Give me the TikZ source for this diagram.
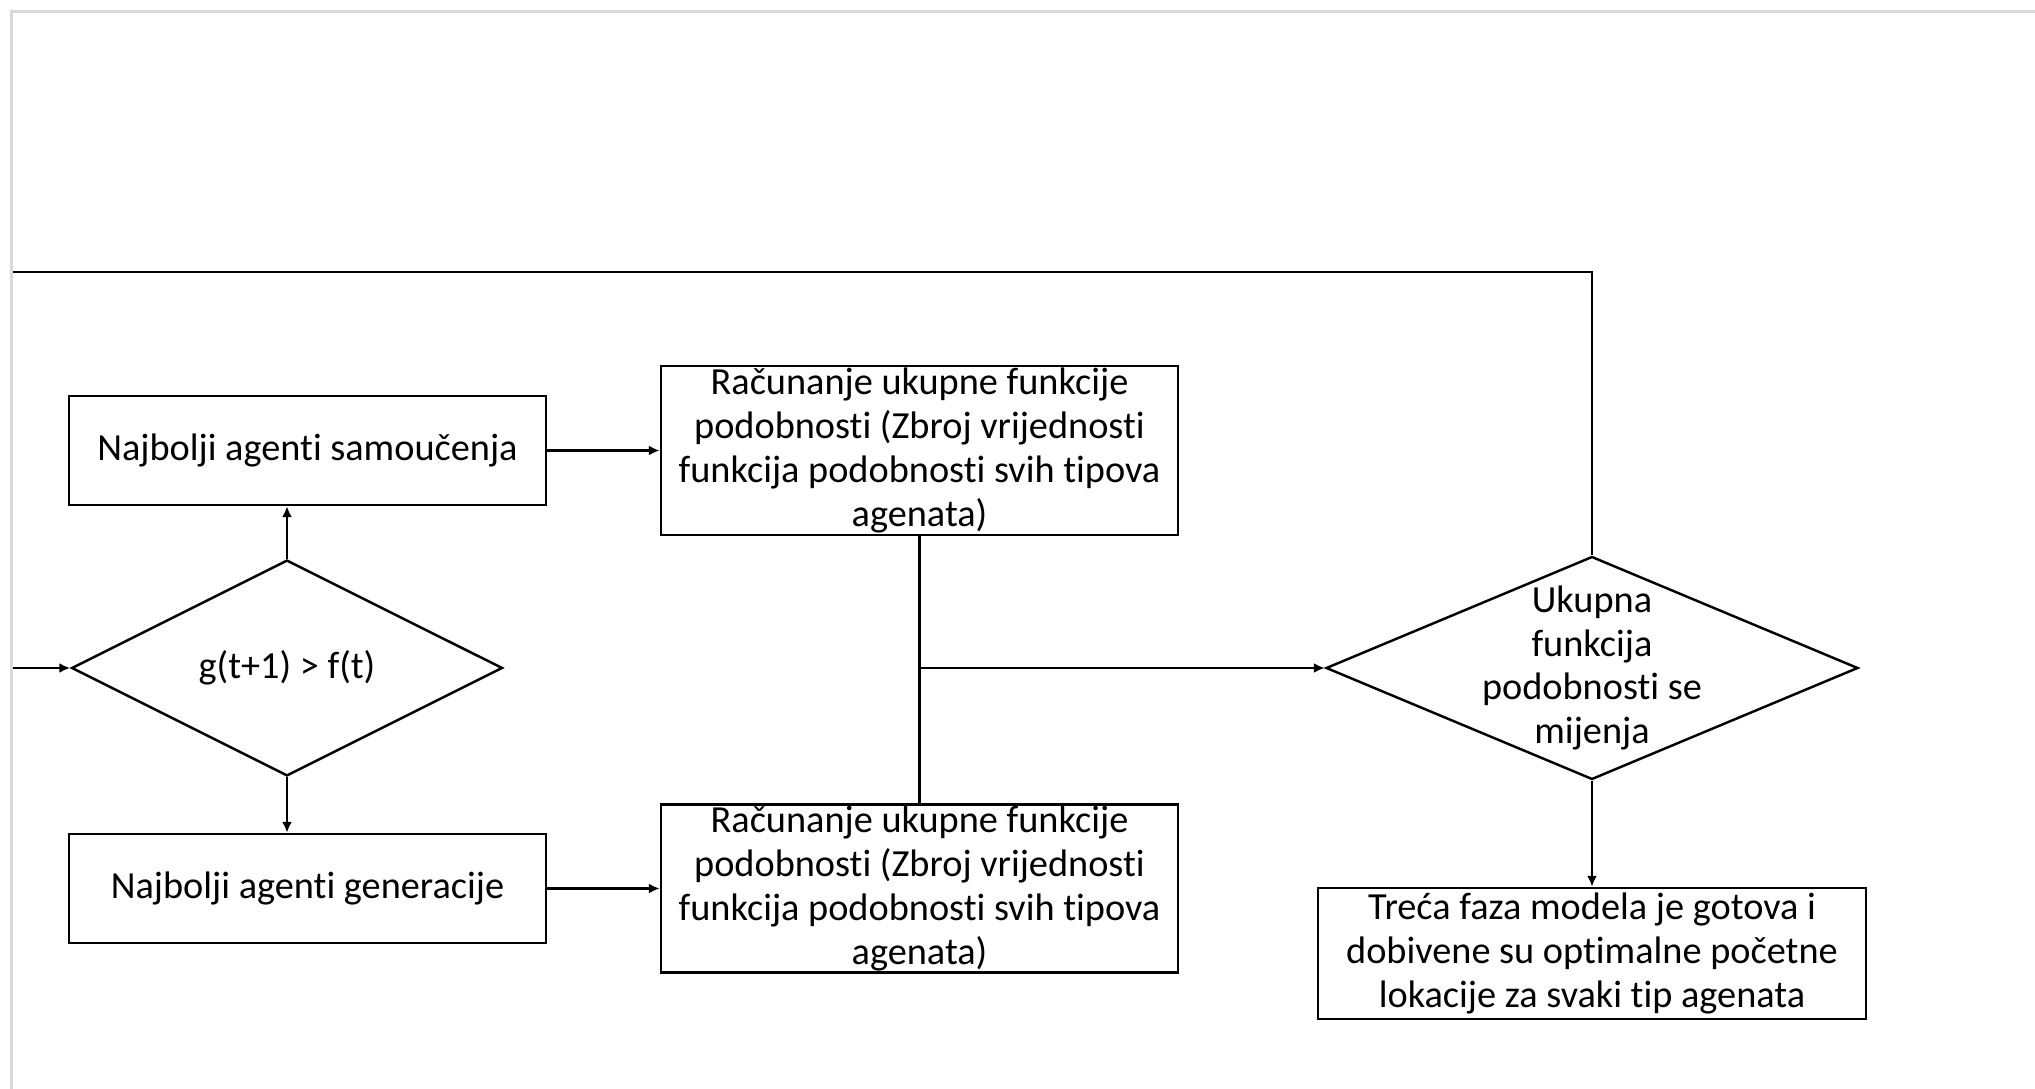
\documentclass[tikz,border=0pt]{standalone}
\usepackage{fontspec}
\setmainfont{Carlito}[Ligatures=NoCommon]
\usetikzlibrary{positioning,shapes.geometric,arrows.meta}

\begin{document}
\begin{tikzpicture}[node distance=3cm,on grid,auto,
		font=\fontsize{10.9}{12.5}\selectfont,
		line width=0.7pt,
		>={Latex[length=1.1mm,width=1mm]},
		block/.style={draw,rectangle,align=center,inner sep=0pt},
		decide/.style={draw,diamond,align=center,inner sep=0pt},
		frame/.style={draw=gray!30,line width=0.03cm}]
		\useasboundingbox (0,0) rectangle (20.35,-10.89);

		\node[decide,minimum width=4.31cm,minimum height=2.16cm] (d1) at (2.87,-6.68) {g(t+1) > f(t)};
		\node[block,minimum width=4.77cm,minimum height=1.09cm]  (b1) at (3.075,-4.505) {Najbolji agenti samoučenja};
		\node[block,minimum width=4.77cm,minimum height=1.09cm]  (b2) [below=4.38 of b1]  {Najbolji agenti generacije};
		\node[block,minimum width=5.17cm,minimum height=1.69cm]  (c1) [right=6.12 of b1]  {Računanje ukupne funkcije\\podobnosti (Zbroj vrijednosti\\funkcija podobnosti svih tipova\\agenata)};
		\node[block,minimum width=5.17cm,minimum height=1.68cm]  (c2) [right=6.12 of b2]  {Računanje ukupne funkcije\\podobnosti (Zbroj vrijednosti\\funkcija podobnosti svih tipova\\agenata)};
		\node[decide,minimum width=5.32cm,minimum height=2.23cm,
		      label={[align=center]center:Ukupna\\funkcija\\podobnosti se\\mijenja}] (d2) [right=13.05 of d1] {};
		\node[block,minimum width=5.48cm,minimum height=1.31cm]  (b5) [below=2.855 of d2] {Treća faza modela je gotova i\\dobivene su optimalne početne\\lokacije za svaki tip agenata};

		\coordinate (j)  at (c1 |- d2);
		\coordinate (fb) at (0.12,-2.72);

		\draw (c1) -- (c2);
		\path [->]
		(d1.north) edge (d1.north |- b1.south)
		(d1.south) edge (d1.south |- b2.north)
		(b1)       edge (c1)
		(b2)       edge (c2)
		(j)        edge (d2)
		(d2)       edge (b5);
		\draw [->] (d2.north) |- (fb) |- (d1.west);

		% page border of the screenshot
		\draw[frame] (0.12,-10.89) |- (20.35,-0.12);
	\end{tikzpicture}
\end{document}
